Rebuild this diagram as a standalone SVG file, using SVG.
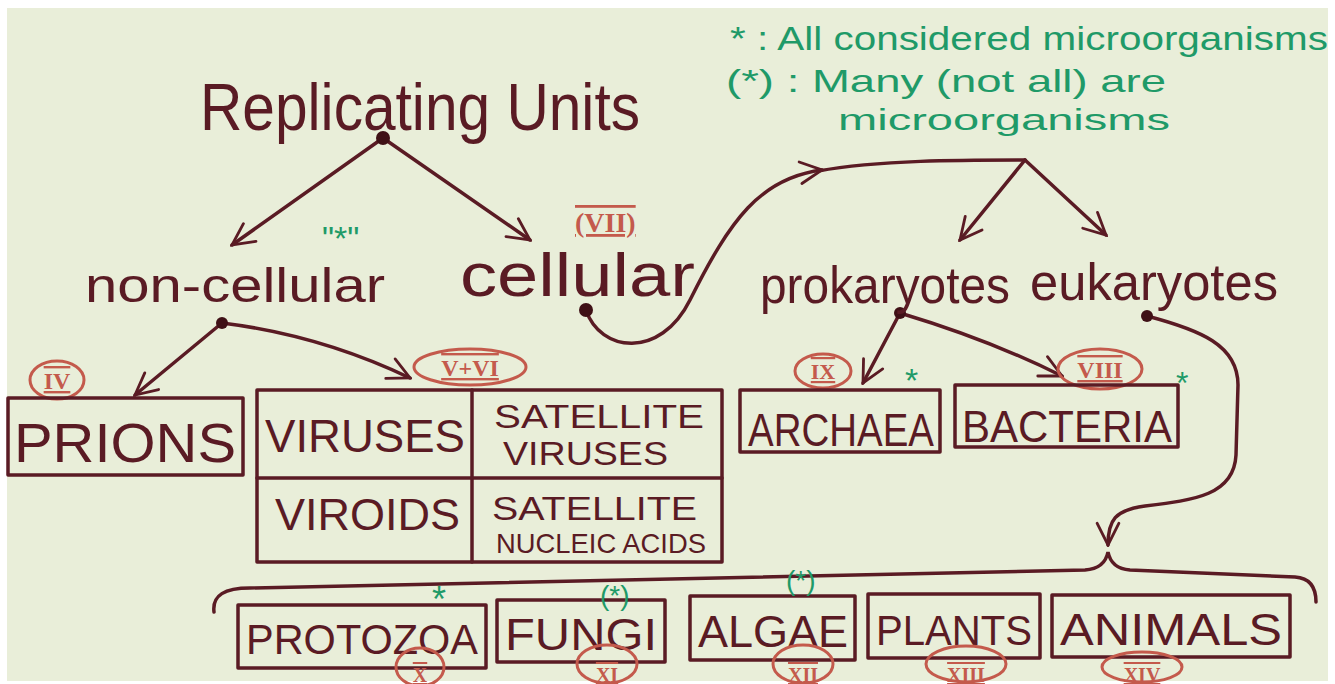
<svg xmlns="http://www.w3.org/2000/svg" width="1335" height="684" viewBox="0 0 1335 684">
<style>
.bg{fill:#e9eed9}
.ink{fill:#5a1b24;font-family:"Liberation Sans",Arial,sans-serif}
.box{fill:none;stroke:#5a1b24;stroke-width:3.5;stroke-linejoin:round}
.ln{fill:none;stroke:#5a1b24;stroke-width:3.5;stroke-linecap:round}
.dot{fill:#3f1016}
.rn{fill:none;stroke:#c45a4c;stroke-width:3}
.rt{fill:#c45a4c;font-family:"Liberation Serif","Times New Roman",serif;font-weight:bold;text-decoration:underline overline}
.gr{fill:#1f9a68;font-family:"Liberation Sans",Arial,sans-serif}
</style>
<defs>
<marker id="arrB" viewBox="0 0 12 12" refX="11" refY="6" markerWidth="26" markerHeight="26" orient="auto" markerUnits="userSpaceOnUse">
<path d="M1,1 L11,6 L1,11" fill="none" stroke="#5a1b24" stroke-width="1.3" stroke-linecap="round"/>
</marker>
</defs>
<rect x="0" y="0" width="1335" height="684" fill="#ffffff"/>
<rect class="bg" x="7" y="8" width="1321" height="673"/>

<g id="legend">
<text class="gr" x="730" y="50" font-size="34" textLength="598" lengthAdjust="spacingAndGlyphs">* : All considered microorganisms</text>
<text class="gr" x="726" y="92" font-size="32" textLength="440" lengthAdjust="spacingAndGlyphs">(*) : Many (not all) are</text>
<text class="gr" x="838" y="130" font-size="30" textLength="332" lengthAdjust="spacingAndGlyphs">microorganisms</text>
</g>

<g id="connectors">
<line class="ln" x1="383" y1="138" x2="232" y2="245" marker-end="url(#arrB)"/>
<line class="ln" x1="383" y1="138" x2="530" y2="240" marker-end="url(#arrB)"/>
<line class="ln" x1="222" y1="323" x2="135" y2="395" marker-end="url(#arrB)"/>
<path class="ln" d="M222,323 Q320,335 410,378" marker-end="url(#arrB)"/>
<path class="ln" d="M586,310 C600,352 660,360 690,300 C730,220 760,178 822,170" marker-end="url(#arrB)"/>
<path class="ln" d="M818,171 C880,160 960,160 1025,160"/>
<line class="ln" x1="1025" y1="160" x2="960" y2="240" marker-end="url(#arrB)"/>
<line class="ln" x1="1025" y1="160" x2="1106" y2="235" marker-end="url(#arrB)"/>
<line class="ln" x1="900" y1="313" x2="863" y2="383" marker-end="url(#arrB)"/>
<path class="ln" d="M900,313 Q990,340 1062,376" marker-end="url(#arrB)"/>
<path class="ln" d="M1147,316 C1200,330 1238,345 1238,385 L1236,455 C1234,495 1195,500 1145,506 C1115,510 1108,520 1108,545" marker-end="url(#arrB)"/>
<path class="ln" d="M214,612 C212,595 225,588 250,588 L1085,570 C1100,569 1106,562 1108,552 C1110,562 1116,569 1130,570 L1295,577 C1310,578 1316,588 1316,602"/>
<circle class="dot" cx="383" cy="138" r="7"/>
<circle class="dot" cx="222" cy="323" r="6"/>
<circle class="dot" cx="586" cy="310" r="7"/>
<circle class="dot" cx="900" cy="313" r="6"/>
<circle class="dot" cx="1147" cy="316" r="6"/>
</g>

<g id="replicating-units">
<text class="ink" x="200" y="130" font-size="66" textLength="440" lengthAdjust="spacingAndGlyphs">Replicating Units</text>
</g>

<g id="non-cellular">
<text class="ink" x="85" y="302" font-size="48" textLength="300" lengthAdjust="spacingAndGlyphs">non-cellular</text>
<text class="gr" x="322" y="250" font-size="34">"*"</text>
</g>

<g id="cellular">
<text class="ink" x="460" y="296" font-size="62" textLength="235" lengthAdjust="spacingAndGlyphs">cellular</text>
<text class="rt" x="575" y="232" font-size="28">(VII)</text>
</g>

<g id="prokaryotes">
<text class="ink" x="760" y="303" font-size="52" textLength="250" lengthAdjust="spacingAndGlyphs">prokaryotes</text>
</g>

<g id="eukaryotes">
<text class="ink" x="1030" y="300" font-size="52" textLength="248" lengthAdjust="spacingAndGlyphs">eukaryotes</text>
</g>

<g id="prions">
<ellipse class="rn" cx="57" cy="380" rx="27" ry="19"/>
<text class="rt" x="57" y="389" font-size="24" text-anchor="middle">IV</text>
<rect class="box" x="8" y="398" width="235" height="77"/>
<text class="ink" x="14" y="462" font-size="56" textLength="222" lengthAdjust="spacingAndGlyphs">PRIONS</text>
</g>

<g id="virus-grid">
<ellipse class="rn" cx="470" cy="367" rx="56" ry="18"/>
<text class="rt" x="470" y="376" font-size="24" text-anchor="middle">V+VI</text>
<rect class="box" x="257" y="390" width="465" height="172"/>
<line class="ln" x1="472" y1="390" x2="472" y2="562"/>
<line class="ln" x1="257" y1="478" x2="722" y2="478"/>
<text class="ink" x="265" y="452" font-size="46" textLength="200" lengthAdjust="spacingAndGlyphs">VIRUSES</text>
<text class="ink" x="494" y="428" font-size="34" textLength="210" lengthAdjust="spacingAndGlyphs">SATELLITE</text>
<text class="ink" x="503" y="465" font-size="34" textLength="165" lengthAdjust="spacingAndGlyphs">VIRUSES</text>
<text class="ink" x="275" y="530" font-size="44" textLength="185" lengthAdjust="spacingAndGlyphs">VIROIDS</text>
<text class="ink" x="492" y="520" font-size="34" textLength="205" lengthAdjust="spacingAndGlyphs">SATELLITE</text>
<text class="ink" x="496" y="553" font-size="28" textLength="210" lengthAdjust="spacingAndGlyphs">NUCLEIC ACIDS</text>
</g>

<g id="archaea">
<ellipse class="rn" cx="823" cy="371" rx="28" ry="17"/>
<text class="rt" x="823" y="379" font-size="22" text-anchor="middle">IX</text>
<text class="gr" x="905" y="392" font-size="34">*</text>
<rect class="box" x="740" y="390" width="200" height="62"/>
<text class="ink" x="748" y="446" font-size="46" textLength="186" lengthAdjust="spacingAndGlyphs">ARCHAEA</text>
</g>

<g id="bacteria">
<ellipse class="rn" cx="1100" cy="369" rx="42" ry="20"/>
<text class="rt" x="1100" y="378" font-size="24" text-anchor="middle">VIII</text>
<text class="gr" x="1176" y="394" font-size="32">*</text>
<rect class="box" x="955" y="385" width="223" height="62"/>
<text class="ink" x="962" y="442" font-size="44" textLength="210" lengthAdjust="spacingAndGlyphs">BACTERIA</text>
</g>

<g id="protozoa">
<rect class="box" x="238" y="605" width="248" height="63"/>
<text class="ink" x="246" y="654" font-size="42" textLength="232" lengthAdjust="spacingAndGlyphs">PROTOZOA</text>
<text class="gr" x="432" y="612" font-size="36">*</text>
<ellipse class="rn" cx="420" cy="667" rx="24" ry="19"/>
<text class="rt" x="420" y="682" font-size="20" text-anchor="middle">X</text>
</g>

<g id="fungi">
<rect class="box" x="497" y="600" width="168" height="62"/>
<text class="ink" x="505" y="650" font-size="44" textLength="152" lengthAdjust="spacingAndGlyphs">FUNGI</text>
<text class="gr" x="600" y="605" font-size="28">(*)</text>
<ellipse class="rn" cx="607" cy="664" rx="30" ry="19"/>
<text class="rt" x="607" y="682" font-size="20" text-anchor="middle">XI</text>
</g>

<g id="algae">
<rect class="box" x="690" y="596" width="165" height="64"/>
<text class="ink" x="698" y="647" font-size="44" textLength="150" lengthAdjust="spacingAndGlyphs">ALGAE</text>
<text class="gr" x="786" y="590" font-size="28">(*)</text>
<ellipse class="rn" cx="803" cy="664" rx="30" ry="19"/>
<text class="rt" x="803" y="682" font-size="20" text-anchor="middle">XII</text>
</g>

<g id="plants">
<rect class="box" x="868" y="594" width="172" height="64"/>
<text class="ink" x="876" y="645" font-size="42" textLength="156" lengthAdjust="spacingAndGlyphs">PLANTS</text>
<ellipse class="rn" cx="966" cy="664" rx="40" ry="18"/>
<text class="rt" x="966" y="682" font-size="20" text-anchor="middle">XIII</text>
</g>

<g id="animals">
<rect class="box" x="1052" y="595" width="238" height="62"/>
<text class="ink" x="1060" y="645" font-size="44" textLength="222" lengthAdjust="spacingAndGlyphs">ANIMALS</text>
<ellipse class="rn" cx="1142" cy="667" rx="40" ry="15"/>
<text class="rt" x="1142" y="682" font-size="20" text-anchor="middle">XIV</text>
</g>
</svg>
